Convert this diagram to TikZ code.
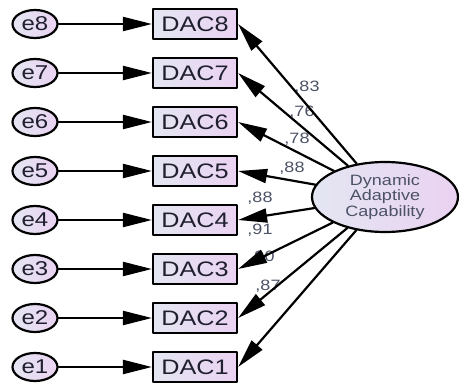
\documentclass[tikz,border=0pt]{standalone}
\usepackage{fontspec}
\setmainfont{Liberation Sans}
\newfontfamily\amosfont[FakeStretch=1.2]{Liberation Sans}
\usetikzlibrary{arrows.meta,shapes.geometric}
\definecolor{eeeef6}{rgb}{0.894,0.902,0.949}
\definecolor{eedaf4}{rgb}{0.918,0.824,0.949}
\definecolor{uuuuuu}{rgb}{0.3,0.32,0.4}
\definecolor{qqqqtt}{rgb}{0.12,0.12,0.18}

\begin{document}
\begin{tikzpicture}[line cap=round,line join=round,>={Triangle[length=29pt,width=14pt]},x=1pt,y=-1pt,
  dacbox/.style={draw,line width=2.2pt,left color=eeeef6,right color=eedaf4,minimum width=84pt,minimum height=30pt,inner sep=0pt,text=qqqqtt,font=\amosfont\fontsize{21}{21}\selectfont},
  errnode/.style={draw,ellipse,line width=2.2pt,left color=eeeef6,right color=eedaf4,minimum width=45pt,minimum height=28pt,inner sep=0pt,text=qqqqtt,font=\amosfont\fontsize{20}{20}\selectfont},
  latnode/.style={draw,ellipse,line width=2.2pt,left color=eeeef6,right color=eedaf4,minimum width=146pt,minimum height=70pt,inner sep=0pt,align=center,text=uuuuuu,font=\amosfont\fontsize{15}{15.5}\selectfont},
  coef/.style={text=uuuuuu,font=\amosfont\fontsize{15}{15}\selectfont},
  path/.style={->,line width=2.2pt}]
\useasboundingbox (0,0) rectangle (459,389);
% error terms
\node[errnode] (e8) at (35,24) {e8};
\node[errnode] (e7) at (35,73) {e7};
\node[errnode] (e6) at (35,122) {e6};
\node[errnode] (e5) at (35,171) {e5};
\node[errnode] (e4) at (35,220) {e4};
\node[errnode] (e3) at (35,269) {e3};
\node[errnode] (e2) at (35,318) {e2};
\node[errnode] (e1) at (35,367) {e1};
% indicators
\node[dacbox] (dac8) at (195,24) {DAC8};
\node[dacbox] (dac7) at (195,73) {DAC7};
\node[dacbox] (dac6) at (195,122) {DAC6};
\node[dacbox] (dac5) at (195,171) {DAC5};
\node[dacbox] (dac4) at (195,220) {DAC4};
\node[dacbox] (dac3) at (195,269) {DAC3};
\node[dacbox] (dac2) at (195,318) {DAC2};
\node[dacbox] (dac1) at (195,367) {DAC1};
% latent
\node[latnode] (dac) at (385,197) {Dynamic\\Adaptive\\Capability};
% loadings
\node[coef] (l8) at (307,87) {,83};
\node[coef] (l7) at (302,112) {,76};
\node[coef] (l6) at (297,139) {,78};
\node[coef] (l5) at (292,168) {,88};
\node[coef] (l4) at (260,198) {,88};
\node[coef] (l3) at (260,230) {,91};
\node[coef] (l2) at (262,257) {,90};
\node[coef] (l1) at (268,286) {,87};
% paths
\draw[path] (e8) -- (dac8);
\draw[path] (e7) -- (dac7);
\draw[path] (e6) -- (dac6);
\draw[path] (e5) -- (dac5);
\draw[path] (e4) -- (dac4);
\draw[path] (e3) -- (dac3);
\draw[path] (e2) -- (dac2);
\draw[path] (e1) -- (dac1);
\draw[path] (dac) -- (dac8.east);
\draw[path] (dac) -- (dac7.east);
\draw[path] (dac) -- (dac6.east);
\draw[path] (dac) -- (dac5.east);
\draw[path] (dac) -- (dac4.east);
\draw[path] (dac) -- (dac3.east);
\draw[path] (dac) -- (dac2.east);
\draw[path] (dac) -- (dac1.east);
\end{tikzpicture}
\end{document}
